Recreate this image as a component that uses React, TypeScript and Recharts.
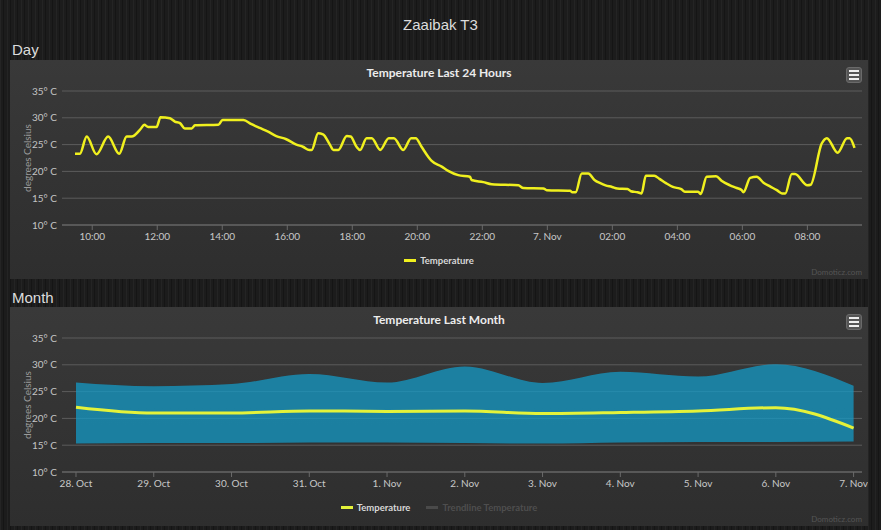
import React from "react";
import {
  LineChart,
  ComposedChart,
  Line,
  Area,
  XAxis,
  YAxis,
  CartesianGrid,
} from "recharts";

// hours since midnight 6 Nov (24 = 7. Nov 00:00)
const DAY_HOURS = [
  9.47, 9.62, 9.83, 10.13, 10.49, 10.83, 11.06, 11.21, 11.5, 11.6, 11.72, 11.98,
  12.1, 12.39, 12.54, 12.7, 12.85, 13.06, 13.16, 13.88, 14.01, 14.65, 14.9,
  15.15, 15.41, 15.66, 15.97, 16.28, 16.48, 16.68, 16.75, 16.95, 17.1, 17.31,
  17.42, 17.57, 17.83, 17.95, 18.13, 18.24, 18.44, 18.6, 18.86, 19.12, 19.28,
  19.57, 19.81, 19.95, 20.13, 20.34, 20.45, 20.75, 20.95, 21.26, 21.62, 21.67,
  22.03, 22.29, 23.11, 23.26, 23.88, 23.98, 24.7, 24.77, 24.87, 25.06, 25.26,
  25.45, 25.63, 25.79, 25.99, 26.15, 26.47, 26.57, 26.78, 26.9, 27.03, 27.29,
  27.45, 27.65, 27.86, 28.12, 28.23, 28.64, 28.72, 28.9, 29.19, 29.37, 29.62,
  29.83, 29.98, 30.03, 30.24, 30.44, 30.65, 30.85, 31.06, 31.22, 31.32, 31.52,
  31.62, 32.0, 32.1, 32.44, 32.6, 32.93, 33.22, 33.3, 33.45,
];
const DAY_TEMPS = [
  23.3, 23.3, 26.5, 23.2, 26.5, 23.3, 26.5, 26.5, 28.0, 28.7, 28.3, 28.3,
  30.1, 29.9, 29.3, 29.0, 28.0, 28.0, 28.6, 28.7, 29.6, 29.6, 28.8,
  28.1, 27.4, 26.6, 26.0, 25.0, 24.6, 24.0, 24.0, 27.1, 26.9, 25.0,
  24.0, 24.0, 26.6, 26.5, 24.6, 24.0, 26.2, 26.2, 24.0, 26.2, 26.2,
  24.0, 26.2, 26.2, 24.6, 22.7, 21.9, 20.9, 20.1, 19.3, 19.0, 18.4,
  18.0, 17.6, 17.4, 16.9, 16.8, 16.5, 16.4, 16.1, 16.1, 19.6, 19.6,
  18.4, 17.8, 17.4, 17.1, 16.8, 16.7, 16.3, 16.1, 15.9, 19.2, 19.2,
  18.6, 17.8, 17.1, 16.7, 16.2, 16.2, 15.8, 19.0, 19.1, 18.2, 17.4,
  16.9, 16.5, 16.1, 18.8, 19.0, 17.9, 17.2, 16.5, 15.9, 15.9, 19.5,
  19.5, 17.4, 17.5, 25.2, 26.2, 23.5, 26.2, 26.2, 24.4,
];
const DAY_TICKS = [10, 12, 14, 16, 18, 20, 22, 24, 26, 28, 30, 32];

const MONTH_LABELS = [
  "28. Oct", "29. Oct", "30. Oct", "31. Oct", "1. Nov", "2. Nov",
  "3. Nov", "4. Nov", "5. Nov", "6. Nov", "7. Nov",
];
const MONTH_AVG = [22.1, 21.0, 21.0, 21.4, 21.3, 21.4, 20.9, 21.1, 21.4, 22.0, 18.2];
const MONTH_MIN = [15.3, 15.4, 15.4, 15.5, 15.5, 15.4, 15.3, 15.5, 15.6, 15.6, 15.7];
const MONTH_MAX = [26.7, 26.0, 26.4, 28.3, 26.7, 29.7, 26.6, 28.7, 27.8, 30.1, 26.1];

const Y_TICKS = [10, 15, 20, 25, 30, 35];

const dayData = DAY_HOURS.map((h, i) => ({ h, temp: DAY_TEMPS[i] }));
const monthData = MONTH_LABELS.map((_, i) => ({
  d: i,
  avg: MONTH_AVG[i],
  range: [MONTH_MIN[i], MONTH_MAX[i]],
}));

const W = 858;
const H = 219;
const PLOT_TOP = 31;
const PLOT_H = 134;
const FONT = "Lato, 'Open Sans', sans-serif";
const YELLOW = "#f0f01e";
const GRID = "#5c5c5c";

const hourLabel = (v: number) => {
  if (v === 24) return "7. Nov";
  const h = v % 24;
  return `${h < 10 ? "0" : ""}${h}:00`;
};

// rotated y axis title, centred on the plot height
const AxisTitle = () => {
  const cx = 17;
  const cy = PLOT_TOP + PLOT_H / 2;
  return (
    <text
      x={cx}
      y={cy}
      transform={`rotate(-90 ${cx} ${cy})`}
      textAnchor="middle"
      dominantBaseline="central"
      fill="#9a9a9a"
      fontSize={10}
      fontFamily={FONT}
    >
      degrees Celsius
    </text>
  );
};

const yAxisProps = {
  domain: [10, 35] as [number, number],
  ticks: Y_TICKS,
  width: 52,
  axisLine: false,
  tickLine: false,
  tickSize: 3,
  tickMargin: 2,
  tick: { fill: "#c4c4c4", fontSize: 10, fontFamily: FONT },
  tickFormatter: (v: number) => `${v}° C`,
  label: AxisTitle,
};

const xAxisStyle = {
  axisLine: { stroke: "#6a6a6a" },
  tickLine: { stroke: "#6a6a6a" },
  tickSize: 5,
  tickMargin: 3,
  tick: { fill: "#c8c8c8", fontSize: 10, fontFamily: FONT },
};

function MenuButton() {
  return (
    <div
      style={{
        position: "absolute",
        left: 836,
        top: 7,
        width: 16,
        height: 16,
        background: "#555",
        borderRadius: 3,
        border: "1px solid #6a6a6a",
        boxSizing: "border-box",
        display: "flex",
        flexDirection: "column",
        justifyContent: "center",
        alignItems: "center",
        gap: 2,
      }}
    >
      {[0, 1, 2].map((i) => (
        <div key={i} style={{ width: 10, height: 2, background: "#eee" }} />
      ))}
    </div>
  );
}

function LegendItem({ color, text, textColor }: { color: string; text: string; textColor: string }) {
  return (
    <span style={{ display: "inline-flex", alignItems: "center", marginRight: 16 }}>
      <span style={{ width: 12, height: 3, background: color, marginRight: 4 }} />
      <span style={{ color: textColor, fontSize: 9.5, fontWeight: 700 }}>{text}</span>
    </span>
  );
}

function Panel({
  top,
  title,
  legend,
  children,
}: {
  top: number;
  title: string;
  legend: React.ReactNode;
  children: React.ReactNode;
}) {
  return (
    <div
      style={{
        position: "absolute",
        left: 10,
        top,
        width: W,
        height: H,
        background: "linear-gradient(180deg, #393939 0%, #2e2e2e 100%)",
        fontFamily: FONT,
      }}
    >
      <div
        style={{
          position: "absolute",
          top: 5,
          width: W,
          textAlign: "center",
          color: "#ececec",
          fontSize: 12,
          fontWeight: 700,
        }}
      >
        {title}
      </div>
      <MenuButton />
      <div style={{ position: "absolute", left: 0, top: 0 }}>{children}</div>
      <div
        style={{
          position: "absolute",
          top: 186,
          width: W,
          textAlign: "center",
          paddingLeft: 16,
          boxSizing: "border-box",
        }}
      >
        {legend}
      </div>
      <div
        style={{
          position: "absolute",
          right: 6,
          top: 207,
          color: "#555",
          fontSize: 8,
        }}
      >
        Domoticz.com
      </div>
    </div>
  );
}

export default function App() {
  return (
    <div
      style={{
        position: "absolute",
        left: 0,
        top: 0,
        width: 881,
        height: 530,
        overflow: "hidden",
        backgroundColor: "#1c1c1c",
        backgroundImage:
          "repeating-linear-gradient(90deg, rgba(255,255,255,0.035) 0px, rgba(255,255,255,0.035) 1px, rgba(0,0,0,0) 1px, rgba(0,0,0,0) 3px, rgba(0,0,0,0.25) 3px, rgba(0,0,0,0.25) 4px, rgba(0,0,0,0) 4px, rgba(0,0,0,0) 7px)",
        fontFamily: "'Liberation Sans', Arial, sans-serif",
      }}
    >
      <div
        style={{
          position: "absolute",
          top: 16,
          width: 881,
          textAlign: "center",
          color: "#dcdcdc",
          fontSize: 15,
        }}
      >
        Zaaibak T3
      </div>
      <div style={{ position: "absolute", left: 12, top: 41, color: "#dcdcdc", fontSize: 15 }}>
        Day
      </div>
      <div style={{ position: "absolute", left: 12, top: 289, color: "#dcdcdc", fontSize: 15 }}>
        Month
      </div>

      <Panel
        top={60}
        title="Temperature Last 24 Hours"
        legend={<LegendItem color={YELLOW} text="Temperature" textColor="#d8d8d8" />}
      >
        <LineChart
          width={W}
          height={H}
          data={dayData}
          margin={{ top: PLOT_TOP, right: 6, bottom: 24, left: 0 }}
        >
          <CartesianGrid vertical={false} stroke={GRID} />
          <XAxis
            type="number"
            dataKey="h"
            domain={[9.07, 33.68]}
            ticks={DAY_TICKS}
            tickFormatter={hourLabel}
            allowDataOverflow
            {...xAxisStyle}
          />
          <YAxis {...yAxisProps} />
          <Line
            type="monotone"
            dataKey="temp"
            stroke={YELLOW}
            strokeWidth={2.5}
            dot={false}
            isAnimationActive={false}
          />
        </LineChart>
      </Panel>

      <Panel
        top={307}
        title="Temperature Last Month"
        legend={
          <>
            <LegendItem color="#e4f23a" text="Temperature" textColor="#d8d8d8" />
            <LegendItem color="#4a4a4a" text="Trendline Temperature" textColor="#4e4e4e" />
          </>
        }
      >
        <ComposedChart
          width={W}
          height={H}
          data={monthData}
          margin={{ top: PLOT_TOP, right: 6, bottom: 24, left: 0 }}
        >
          <CartesianGrid vertical={false} stroke={GRID} />
          <XAxis
            type="number"
            dataKey="d"
            domain={[-0.18, 10.108]}
            ticks={MONTH_LABELS.map((_, i) => i)}
            tickFormatter={(v: number) => MONTH_LABELS[v]}
            allowDataOverflow
            {...xAxisStyle}
          />
          <YAxis {...yAxisProps} />
          <Area
            type="monotone"
            dataKey="range"
            fill="#149ac5"
            fillOpacity={0.75}
            stroke="none"
            isAnimationActive={false}
          />
          <Line
            type="monotone"
            dataKey="avg"
            stroke="#e4f23a"
            strokeWidth={3}
            dot={false}
            isAnimationActive={false}
          />
        </ComposedChart>
      </Panel>
    </div>
  );
}
